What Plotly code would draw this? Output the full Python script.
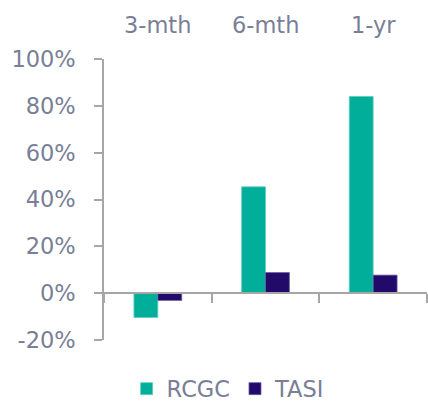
import plotly.graph_objects as go

categories = ["3-mth", "6-mth", "1-yr"]
rcgc = [-10.4, 45.4, 84.0]
tasi = [-3.1, 8.8, 7.7]
series_names = ["RCGC", "TASI"]
y_ticks = [-20, 0, 20, 40, 60, 80, 100]
y_tick_labels = ["-20%", "0%", "20%", "40%", "60%", "80%", "100%"]

TEXT = "#787f96"
AXIS = "#a6a6a6"
FONT = "DejaVu Sans"
FS = 22.5

fig = go.Figure()
fig.add_trace(go.Bar(x=categories, y=rcgc, name=series_names[0],
                     marker=dict(color="#00ae9a", line=dict(color="#5fcfc0", width=0.8))))
fig.add_trace(go.Bar(x=categories, y=tasi, name=series_names[1],
                     marker=dict(color="#220a6b", line=dict(color="#6a5ca0", width=0.8))))

for c in categories:
    fig.add_annotation(x=c, y=1, xref="x", yref="paper", yanchor="middle",
                       yshift=34, text=c, showarrow=False,
                       font=dict(family=FONT, size=FS, color=TEXT))

fig.update_layout(
    width=428, height=404,
    margin=dict(l=104, r=1, t=59, b=64),
    paper_bgcolor="white", plot_bgcolor="white",
    barmode="group", bargap=0.556, bargroupgap=0,
    font=dict(family=FONT, color=TEXT, size=FS),
    showlegend=True,
    legend=dict(orientation="h", x=0.533, xanchor="center", xref="container",
                y=1 - 389/404, yanchor="middle", yref="container",
                font=dict(family=FONT, size=FS, color=TEXT),
                tracegroupgap=0),
    xaxis=dict(anchor="free", position=20/120, showline=True, linecolor=AXIS,
               linewidth=1.5, ticks="outside", ticklen=9, tickcolor=AXIS,
               tickwidth=1.5, tickson="boundaries", showticklabels=False,
               showgrid=False, zeroline=False),
    yaxis=dict(range=[-20, 100], tickvals=y_ticks, ticktext=y_tick_labels,
               showline=True, linecolor=AXIS, linewidth=1.5, ticks="outside",
               ticklen=8, tickcolor=AXIS, tickwidth=1.5, showgrid=False,
               zeroline=False, ticklabelstandoff=14,
               tickfont=dict(family=FONT, size=FS, color=TEXT)),
)

fig.write_html("out.html")
